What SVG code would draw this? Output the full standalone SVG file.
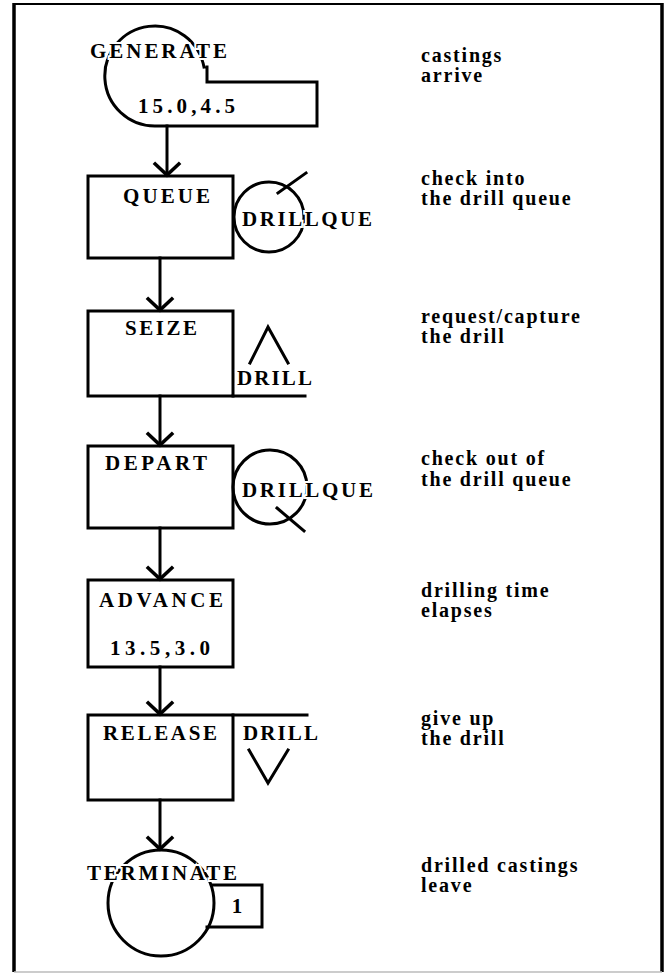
<svg xmlns="http://www.w3.org/2000/svg" width="668" height="974" viewBox="0 0 668 974">
<style>
.ln{fill:none;stroke:#000;stroke-width:3;stroke-linecap:square}
.lbl{font-family:"Liberation Serif","Times New Roman",serif;font-weight:bold;font-size:21px;fill:#000;paint-order:stroke;stroke:#fff;stroke-width:4px}
.txt{font-family:"Liberation Serif","Times New Roman",serif;font-weight:bold;font-size:20px;fill:#000;letter-spacing:1.8px}
</style>
<defs>
<marker id="chev" markerUnits="userSpaceOnUse" markerWidth="30" markerHeight="30" refX="0" refY="0" viewBox="-16 -16 32 32" orient="auto" overflow="visible">
<path d="M-13,-14 L0,0 L-13,14" fill="none" stroke="#000" stroke-width="3.8"/>
</marker>
</defs>
<rect width="668" height="974" fill="#fff"/>
<g id="border">
<line x1="14" y1="4" x2="662" y2="4" stroke="#000" stroke-width="2"/>
<line x1="14" y1="3" x2="14" y2="972" stroke="#000" stroke-width="3.5"/>
<line x1="662" y1="3" x2="662" y2="972" stroke="#000" stroke-width="3.5"/>
<line x1="14" y1="972" x2="662" y2="972" stroke="#bbb" stroke-width="1.5"/>
</g>
<g id="connectors">
<line class="ln" x1="167" y1="126" x2="167" y2="175" marker-end="url(#chev)"/>
<line class="ln" x1="160" y1="258" x2="160" y2="310" marker-end="url(#chev)"/>
<line class="ln" x1="160" y1="396" x2="160" y2="445" marker-end="url(#chev)"/>
<line class="ln" x1="160" y1="528" x2="160" y2="579" marker-end="url(#chev)"/>
<line class="ln" x1="160" y1="667" x2="160" y2="714" marker-end="url(#chev)"/>
<line class="ln" x1="160" y1="800" x2="160" y2="849" marker-end="url(#chev)"/>
</g>
<g id="generate">
<path class="ln" d="M204,67 A50,50 0 1 0 155,126 H317 V82 H207 V67"/>
<text class="lbl" x="90" y="58" textLength="137" lengthAdjust="spacing">GENERATE</text>
<text class="lbl" x="138" y="113" font-size="22" textLength="97" lengthAdjust="spacing">15.0,4.5</text>
</g>
<g id="queue">
<rect class="ln" x="88" y="176" width="145" height="82"/>
<text class="lbl" x="123" y="203" textLength="87" lengthAdjust="spacing">QUEUE</text>
<circle class="ln" cx="269" cy="217" r="35"/>
<line class="ln" x1="278" y1="193" x2="306" y2="173"/>
<text class="lbl" x="242" y="226" font-size="22" textLength="130" lengthAdjust="spacing">DRILLQUE</text>
</g>
<g id="seize">
<rect class="ln" x="88" y="311" width="145" height="85"/>
<line class="ln" x1="233" y1="396" x2="305" y2="396"/>
<text class="lbl" x="125" y="335" textLength="72" lengthAdjust="spacing">SEIZE</text>
<polyline class="ln" points="250,363 268,327 288,363" stroke-width="3.5" stroke-linecap="butt"/>
<text class="lbl" x="237" y="385" textLength="75" lengthAdjust="spacing">DRILL</text>
</g>
<g id="depart">
<rect class="ln" x="88" y="446" width="145" height="82"/>
<text class="lbl" x="105" y="470" textLength="102" lengthAdjust="spacing">DEPART</text>
<circle class="ln" cx="270" cy="487" r="37"/>
<line class="ln" x1="277" y1="508" x2="304" y2="531"/>
<text class="lbl" x="242" y="497" font-size="22" textLength="131" lengthAdjust="spacing">DRILLQUE</text>
</g>
<g id="advance">
<rect class="ln" x="88" y="580" width="145" height="87"/>
<text class="lbl" x="99" y="607" textLength="124" lengthAdjust="spacing">ADVANCE</text>
<text class="lbl" x="110" y="655" font-size="22" textLength="100" lengthAdjust="spacing">13.5,3.0</text>
</g>
<g id="release">
<rect class="ln" x="88" y="715" width="145" height="85"/>
<line class="ln" x1="233" y1="715" x2="307" y2="715"/>
<text class="lbl" x="103" y="740" textLength="114" lengthAdjust="spacing">RELEASE</text>
<text class="lbl" x="243" y="740" textLength="75" lengthAdjust="spacing">DRILL</text>
<polyline class="ln" points="249,750 268,783 288,750" stroke-width="3.5" stroke-linecap="butt"/>
</g>
<g id="terminate">
<path class="ln" d="M212,885 H262 V927 H207"/>
<circle class="ln" cx="161" cy="903" r="53"/>
<text class="lbl" x="87" y="880" textLength="150" lengthAdjust="spacing">TERMINATE</text>
<text class="lbl" x="237" y="913" text-anchor="middle">1</text>
</g>
<g id="notes">
<text class="txt" x="421" y="62">castings</text>
<text class="txt" x="421" y="82">arrive</text>
<text class="txt" x="421" y="185">check into</text>
<text class="txt" x="421" y="205">the drill queue</text>
<text class="txt" x="421" y="323">request/capture</text>
<text class="txt" x="421" y="343">the drill</text>
<text class="txt" x="421" y="465">check out of</text>
<text class="txt" x="421" y="486">the drill queue</text>
<text class="txt" x="421" y="597">drilling time</text>
<text class="txt" x="421" y="617">elapses</text>
<text class="txt" x="421" y="725">give up</text>
<text class="txt" x="421" y="745">the drill</text>
<text class="txt" x="421" y="872">drilled castings</text>
<text class="txt" x="421" y="892">leave</text>
</g>
</svg>
